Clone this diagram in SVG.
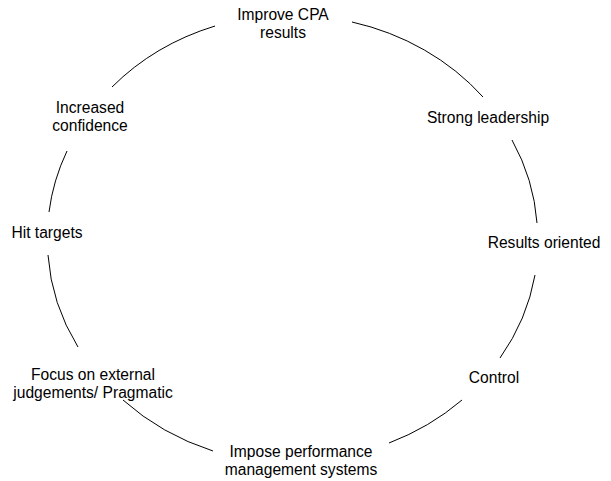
<svg xmlns="http://www.w3.org/2000/svg" width="611" height="481" viewBox="0 0 611 481">
  <style>
    .label { font-family: "Liberation Sans", Arial, sans-serif; font-size: 15.6px; fill: #000; text-anchor: middle; }
    .arc { fill: none; stroke: #000; stroke-width: 1; }
  </style>
  <rect width="611" height="481" fill="#fff"/>

  <!-- cycle segments between the stages, all on one ellipse (clockwise) -->
  <g id="connectors">
    <path class="arc" d="M352,22 A245,219 0 0 1 483,97"/>
    <path class="arc" d="M512,140 A245,219 0 0 1 537,223"/>
    <path class="arc" d="M535,275 A245,219 0 0 1 500,358"/>
    <path class="arc" d="M462,400 A245,219 0 0 1 389,443"/>
    <path class="arc" d="M213,451 A245,219 0 0 1 123,400"/>
    <path class="arc" d="M78,347 A245,219 0 0 1 48,255"/>
    <path class="arc" d="M49,212 A245,219 0 0 1 67,151"/>
    <path class="arc" d="M112,87 A245,219 0 0 1 215,26"/>
  </g>

  <g id="improve-cpa">
    <text class="label" x="283" y="20">Improve CPA</text>
    <text class="label" x="283" y="38">results</text>
  </g>
  <g id="strong-leadership">
    <text class="label" x="488" y="123">Strong leadership</text>
  </g>
  <g id="results-oriented">
    <text class="label" x="544" y="248">Results oriented</text>
  </g>
  <g id="control">
    <text class="label" x="494" y="383">Control</text>
  </g>
  <g id="impose-pms">
    <text class="label" x="301" y="457">Impose performance</text>
    <text class="label" x="301" y="475">management systems</text>
  </g>
  <g id="focus-external">
    <text class="label" x="93" y="380">Focus on external</text>
    <text class="label" x="93" y="398">judgements/ Pragmatic</text>
  </g>
  <g id="hit-targets">
    <text class="label" x="47" y="238">Hit targets</text>
  </g>
  <g id="increased-confidence">
    <text class="label" x="90" y="113">Increased</text>
    <text class="label" x="90" y="131">confidence</text>
  </g>
</svg>
